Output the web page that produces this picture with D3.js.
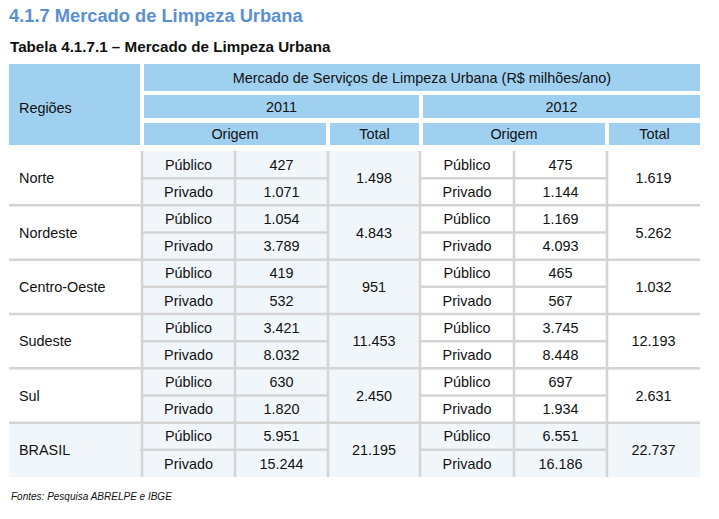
<!DOCTYPE html>
<html>
  <head>
    <meta charset="utf-8">
    <title>Mercado de Limpeza Urbana</title>
    <script src="https://cdn.jsdelivr.net/npm/d3@7"></script>
    <style type="text/css">
      body { margin: 0; background: #fff; }
      svg text { font-family: "Liberation Sans", Arial, Helvetica, sans-serif; fill: #111; }
    </style>
  </head>
  <body>
    <script>
    //Width and height
    var width = 719;
    var height = 519;

    // table values (R$ milhoes/ano)
    var regions = ["Norte", "Nordeste", "Centro-Oeste", "Sudeste", "Sul", "BRASIL"];
    var origins = ["Público", "Privado"];
    var years = ["2011", "2012"];
    var pub2011 = [427, 1054, 419, 3421, 630, 5951];
    var priv2011 = [1071, 3789, 532, 8032, 1820, 15244];
    var tot2011 = [1498, 4843, 951, 11453, 2450, 21195];
    var pub2012 = [475, 1169, 465, 3745, 697, 6551];
    var priv2012 = [1144, 4093, 567, 8448, 1934, 16186];
    var tot2012 = [1619, 5262, 1032, 12193, 2631, 22737];

    var title = "4.1.7 Mercado de Limpeza Urbana";
    var subtitle = "Tabela 4.1.7.1 – Mercado de Limpeza Urbana";
    var groupHeader = "Mercado de Serviços de Limpeza Urbana (R$ milhões/ano)";
    var source = "Fontes: Pesquisa ABRELPE e IBGE";

    var ptBR = d3.formatLocale({decimal: ",", thousands: ".", grouping: [3], currency: ["R$", ""]});
    var fmt = ptBR.format(",d");

    var headFill = "#a0d0f0",
        lightFill = "#f1f6fb",
        lineColor = "#d4d4d4",
        fontSize = "14.4px";

    var svg = d3.select("body")
      .append("svg")
        .attr("width", width)
        .attr("height", height);

    // column edges of the body of the table
    var cols = ["reg", "o11", "v11", "t11", "o12", "v12", "t12", "end"];
    var x = d3.scaleOrdinal().domain(cols).range([9, 142, 235, 328, 420, 514, 607, 700]);
    function mid(a, b) { return (x(a) + x(b)) / 2; }

    // 12 sub-rows (2 per region)
    var y = d3.scaleLinear().domain([0, regions.length * 2]).range([151, 477]);

    svg.append("text")
      .attr("x", 9).attr("y", 22)
      .style("font-size", "18.3px").style("font-weight", "bold")
      .style("fill", "#5b8fd3")
      .text(title);

    svg.append("text")
      .attr("x", 10).attr("y", 52)
      .style("font-size", "15.2px").style("font-weight", "bold")
      .text(subtitle);

    // header boxes
    var head = [
      {x0: 9, x1: 140, y0: 64, y1: 145, label: "Regiões", align: "start", ty: 108},
      {x0: 144, x1: 700, y0: 64, y1: 91, label: groupHeader},
      {x0: 144, x1: 419, y0: 95, y1: 118, label: years[0]},
      {x0: 423, x1: 700, y0: 95, y1: 118, label: years[1]},
      {x0: 144, x1: 326, y0: 123, y1: 145, label: "Origem"},
      {x0: 330, x1: 419, y0: 123, y1: 145, label: "Total"},
      {x0: 423, x1: 605, y0: 123, y1: 145, label: "Origem"},
      {x0: 609, x1: 700, y0: 123, y1: 145, label: "Total"}
    ];
    var hg = svg.append("g");
    hg.selectAll("rect").data(head).enter().append("rect")
      .attr("x", function(d) { return d.x0; })
      .attr("y", function(d) { return d.y0; })
      .attr("width", function(d) { return d.x1 - d.x0; })
      .attr("height", function(d) { return d.y1 - d.y0; })
      .attr("fill", headFill);
    hg.selectAll("text").data(head).enter().append("text")
      .attr("x", function(d) { return d.align ? d.x0 + 10 : (d.x0 + d.x1) / 2; })
      .attr("y", function(d) { return d.ty || (d.y0 + d.y1) / 2; })
      .attr("dy", "0.36em")
      .attr("text-anchor", function(d) { return d.align || "middle"; })
      .style("font-size", fontSize)
      .text(function(d) { return d.label; });

    // backgrounds: 2011 columns shaded, BRASIL row fully shaded
    var body = svg.append("g");
    body.append("rect")
      .attr("x", x("o11")).attr("y", y(0))
      .attr("width", x("o12") - x("o11")).attr("height", y(12) - y(0))
      .attr("fill", lightFill);
    body.append("rect")
      .attr("x", x("reg")).attr("y", y(10))
      .attr("width", x("end") - x("reg")).attr("height", y(12) - y(10))
      .attr("fill", lightFill);

    // grid lines
    var blockLines = d3.range(1, regions.length);
    body.selectAll(".bl").data(blockLines).enter().append("line")
      .attr("x1", x("reg")).attr("x2", x("end"))
      .attr("y1", function(i) { return y(i * 2); })
      .attr("y2", function(i) { return y(i * 2); })
      .attr("stroke", lineColor).attr("stroke-width", 2.5);
    var innerLines = [];
    regions.forEach(function(r, i) {
      innerLines.push({a: "o11", b: "t11", i: i});
      innerLines.push({a: "o12", b: "t12", i: i});
    });
    body.selectAll(".il").data(innerLines).enter().append("line")
      .attr("x1", function(d) { return x(d.a) - (d.a == "o11" && d.i == 5 ? 2 : 0); })
      .attr("x2", function(d) { return x(d.b); })
      .attr("y1", function(d) { return y(d.i * 2 + 1); })
      .attr("y2", function(d) { return y(d.i * 2 + 1); })
      .attr("stroke", lineColor).attr("stroke-width", 2.5);
    body.selectAll(".vl").data(["o11", "v11", "t11", "o12", "v12", "t12"]).enter().append("line")
      .attr("x1", function(c) { return x(c); })
      .attr("x2", function(c) { return x(c); })
      .attr("y1", y(0)).attr("y2", y(12))
      .attr("stroke", lineColor).attr("stroke-width", 2.5);

    // cell texts
    var cells = [];
    regions.forEach(function(r, i) {
      cells.push({x: x("reg") + 10, y: y(i * 2 + 1), t: r, anchor: "start"});
      cells.push({x: mid("t11", "o12"), y: y(i * 2 + 1), t: fmt(tot2011[i])});
      cells.push({x: mid("t12", "end"), y: y(i * 2 + 1), t: fmt(tot2012[i])});
      [pub2011, priv2011].forEach(function(arr, k) {
        cells.push({x: mid("o11", "v11"), y: y(i * 2 + k + 0.5), t: origins[k]});
        cells.push({x: mid("v11", "t11"), y: y(i * 2 + k + 0.5), t: fmt(arr[i])});
      });
      [pub2012, priv2012].forEach(function(arr, k) {
        cells.push({x: mid("o12", "v12"), y: y(i * 2 + k + 0.5), t: origins[k]});
        cells.push({x: mid("v12", "t12"), y: y(i * 2 + k + 0.5), t: fmt(arr[i])});
      });
    });
    body.selectAll("text").data(cells).enter().append("text")
      .attr("x", function(d) { return d.x; })
      .attr("y", function(d) { return d.y; })
      .attr("dy", "0.36em")
      .attr("text-anchor", function(d) { return d.anchor || "middle"; })
      .style("font-size", fontSize)
      .text(function(d) { return d.t; });

    svg.append("text")
      .attr("x", 11).attr("y", 500)
      .style("font-size", "10px").style("font-style", "italic")
      .text(source);
    </script>
  </body>
</html>
